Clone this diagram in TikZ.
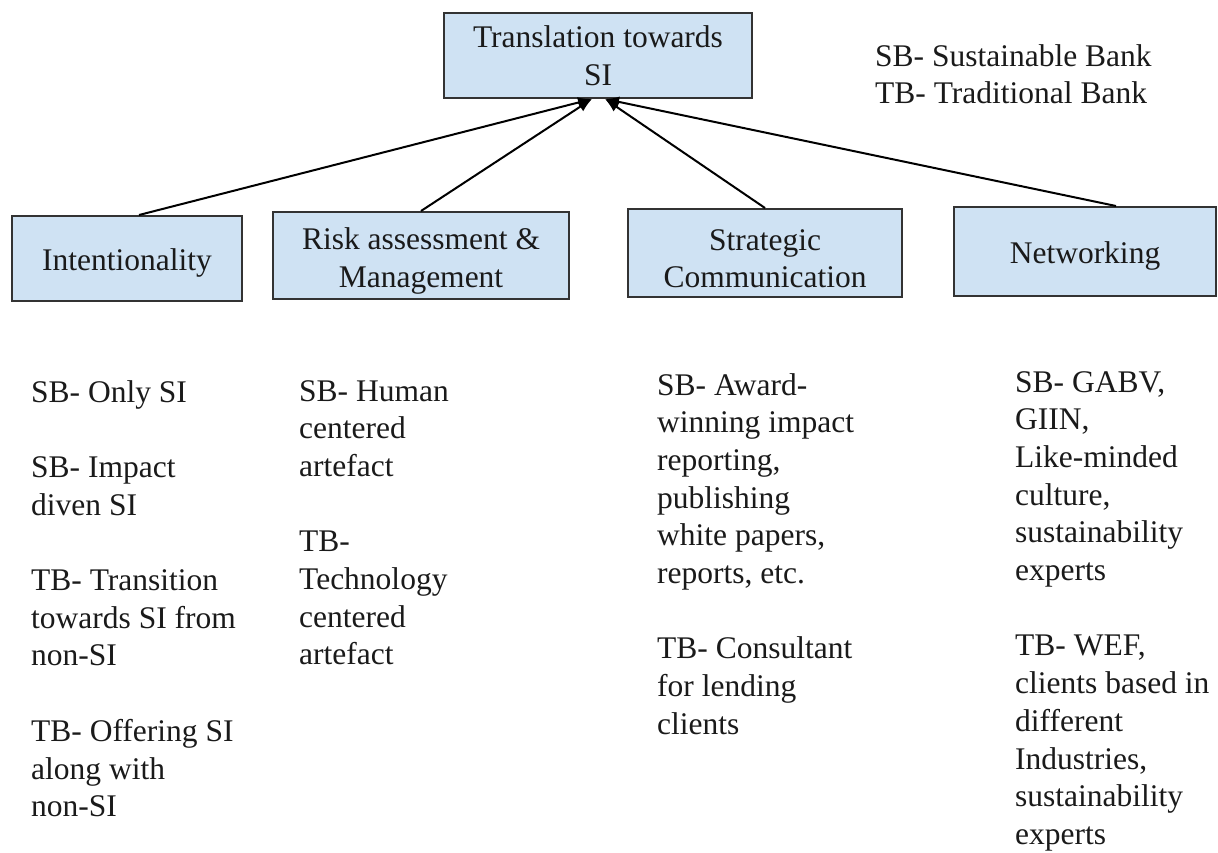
\documentclass[tikz,border=0pt]{standalone}
\usepackage{fontspec}
\setmainfont{Liberation Serif}
\usetikzlibrary{arrows.meta, positioning}
\definecolor{boxblue}{HTML}{CFE2F3}
\definecolor{edgegray}{HTML}{333333}
\definecolor{inkgray}{HTML}{1A1A1A}

\tikzset{
  blk/.style={draw=edgegray, line width=2pt, fill=boxblue, align=center, inner sep=0pt, minimum height=86pt,
    execute at begin node={\rule{0pt}{30pt}}},
  lowtxt/.style={text height=70pt},
  arr/.style={line width=2pt, -{Latex[length=14pt,width=11pt]}},
  txt/.style={anchor=north west, align=left, inner sep=0pt}
}

\begin{document}
\begin{tikzpicture}[x=1pt, y=-1pt, font=\fontsize{31.5pt}{37.7pt}\selectfont, text=inkgray]
  \useasboundingbox (0,0) rectangle (1218,852);

  % Top box
  \node[blk, minimum width=308pt, minimum height=85pt] (trans) at (598,55.5) {Translation towards\\SI};

  % Legend
  \node[txt] (legend) at (875,44) {SB- Sustainable Bank\\TB- Traditional Bank};

  % Four categories
  \node[blk, minimum width=230pt, minimum height=85pt] (intent) at (127,258.5) {Intentionality};
  \node[blk, lowtxt, minimum width=296pt, minimum height=87pt] (risk) at (421,255.5) {Risk assessment \&\\Management};
  \node[blk, lowtxt, minimum width=274pt, minimum height=88pt] (strat) at (765,253) {Strategic\\Communication};
  \node[blk, minimum width=262pt, minimum height=89pt] (netw) at (1085,251.5) {Networking};

  % Arrows to top
  \draw[arr] ([xshift=12pt]intent.north) -- ([xshift=-6pt]trans.south);
  \draw[arr] (risk.north) -- ([xshift=-6pt]trans.south);
  \draw[arr] (strat.north) -- ([xshift=7pt]trans.south);
  \draw[arr] ([xshift=31pt]netw.north) -- ([xshift=7pt]trans.south);

  % Bank details
  \node[txt] (intentTxt) at (31,380) {SB- Only SI\\[37.7pt]
    SB- Impact\\diven SI\\[37.7pt]
    TB- Transition\\towards SI from\\non-SI\\[37.7pt]
    TB- Offering SI\\along with\\non-SI};
  \node[txt] (riskTxt) at (299,380) {SB- Human\\centered\\artefact\\[37.7pt]
    TB-\\Technology\\centered\\artefact};
  \node[txt] (stratTxt) at (657,373) {SB- Award-\\winning impact\\reporting,\\publishing\\white papers,\\reports, etc.\\[37.7pt]
    TB- Consultant\\for lending\\clients};
  \node[txt] (netwTxt) at (1015,371) {SB- GABV,\\GIIN,\\Like-minded\\culture,\\sustainability\\experts\\[37.7pt]
    TB- WEF,\\clients based in\\different\\Industries,\\sustainability\\experts};
\end{tikzpicture}
\end{document}
